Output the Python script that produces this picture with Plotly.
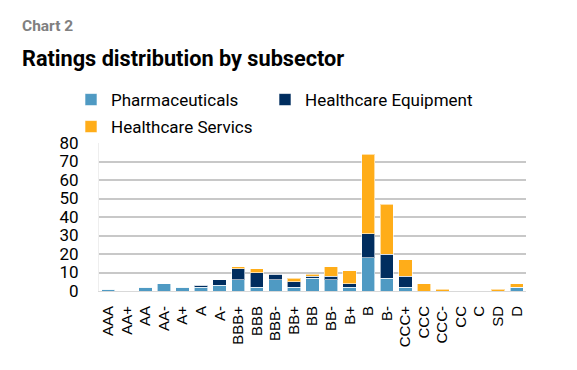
import plotly.graph_objects as go

categories = ["AAA","AA+","AA","AA-","A+","A","A-","BBB+","BBB","BBB-","BB+","BB","BB-",
              "B+","B","B-","CCC+","CCC","CCC-","CC","C","SD","D"]
pharma =    [1,0,2,4,2,2,3,6,2,6,2,7,6,2,18,7,2,0,0,0,0,0,2]
equipment = [0,0,0,0,0,1,3,6,8,3,3,1,2,2,13,13,6,0,0,0,0,0,0]
services =  [0,0,0,0,0,0,0,1,2,0,2,1,5,7,43,27,9,4,1,0,0,1,2]

series = [("Pharmaceuticals", pharma, "#4f9ac3", "legend"),
          ("Healthcare Equipment", equipment, "#002d5f", "legend2"),
          ("Healthcare Servics", services, "#ffad19", "legend3")]

W, H = 577, 370
OFF = 8  # page body offset
# plot area in screenshot pixels: x 99..526, y 143..291
L, R, T, B = 99 - OFF, W - (526 - OFF), 143 - OFF, H - (291 - OFF)
PW, PH = W - L - R, H - T - B

def px(x):
    return (x - OFF - L) / PW

def py(y):
    return (H - B - (y - OFF)) / PH

fig = go.Figure()
for name, vals, col, lg in series:
    fig.add_trace(go.Bar(x=categories, y=vals, name=name, marker_color=col, legend=lg,
                         marker_line=dict(color="rgba(255,255,255,0.6)", width=1)))

def leg(xs, ys):
    return dict(orientation="h", x=px(xs), y=py(ys), xanchor="left", yanchor="top",
                font=dict(size=17, family="Roboto"), itemwidth=30,
                bgcolor="rgba(0,0,0,0)")

fig.update_layout(
    barmode="stack", bargap=0.28,
    width=W, height=H,
    margin=dict(l=L, r=R, t=T, b=B, autoexpand=False),
    paper_bgcolor="white", plot_bgcolor="white",
    font=dict(family="Roboto", color="#000000"),
    showlegend=True,
    legend=leg(71, 82),
    legend2=leg(265, 82),
    legend3=leg(71, 109),
    annotations=[
        dict(text="<b>Chart 2</b>", x=px(20), y=py(26), xref="paper", yref="paper",
             showarrow=False, xanchor="left", yanchor="middle",
             font=dict(size=15.5, color="#808080", family="Roboto")),
        dict(text="<b>Ratings distribution by subsector</b>", x=px(20), y=py(58),
             xref="paper", yref="paper", showarrow=False, xanchor="left", yanchor="middle",
             font=dict(size=21.7, color="#000000", family="Roboto")),
    ],
)
fig.update_xaxes(tickangle=-90, tickfont=dict(size=15, family="Liberation Sans"),
                 tickmode="array", tickvals=categories, ticktext=categories,
                 showline=True, linecolor="#d9d9d9", linewidth=1, ticks="", showgrid=False,
                 ticklabelstandoff=8)
fig.update_yaxes(range=[0, 80], dtick=10, tickfont=dict(size=17, family="Roboto"),
                 showgrid=True, gridcolor="#c8c8c8", gridwidth=1.5, zeroline=False,
                 showline=True, linecolor="#eeeeee", ticks="", ticklabelstandoff=16)
fig.write_html("out.html")
